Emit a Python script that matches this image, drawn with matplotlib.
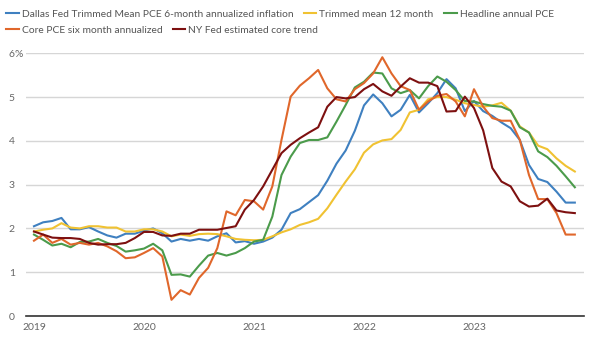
import numpy as np
import matplotlib.pyplot as plt
from matplotlib.lines import Line2D

plt.rcParams['font.family'] = ['Lato', 'DejaVu Sans']

# monthly, Jan 2019 .. Dec 2023
years = ['2019', '2020', '2021', '2022', '2023']

dallas_6m = [2.05, 2.14, 2.17, 2.24, 1.98, 1.98, 2.03, 1.93, 1.84, 1.79, 1.88, 1.88,
             1.95, 2.00, 1.89, 1.70, 1.76, 1.72, 1.76, 1.72, 1.82, 1.89, 1.68, 1.71,
             1.65, 1.70, 1.79, 1.97, 2.35, 2.44, 2.60, 2.76, 3.09, 3.48, 3.78, 4.23,
             4.81, 5.06, 4.86, 4.56, 4.71, 5.05, 4.65, 4.86, 5.09, 5.41, 5.20, 4.68,
             4.91, 4.68, 4.57, 4.42, 4.29, 4.02, 3.45, 3.13, 3.06, 2.84, 2.59, 2.59]

trimmed_12m = [1.93, 1.97, 2.00, 2.12, 2.02, 2.00, 2.05, 2.05, 2.02, 2.02, 1.93, 1.93,
               1.98, 1.98, 1.93, 1.82, 1.86, 1.83, 1.87, 1.88, 1.87, 1.82, 1.76, 1.74,
               1.73, 1.74, 1.82, 1.91, 1.98, 2.08, 2.14, 2.22, 2.46, 2.77, 3.07, 3.35,
               3.73, 3.92, 4.01, 4.04, 4.25, 4.65, 4.71, 4.95, 5.00, 5.00, 4.94, 4.86,
               4.82, 4.78, 4.81, 4.87, 4.69, 4.33, 4.19, 3.89, 3.81, 3.60, 3.43, 3.30]

headline = [1.86, 1.74, 1.61, 1.65, 1.57, 1.69, 1.70, 1.76, 1.67, 1.60, 1.47, 1.50,
            1.54, 1.65, 1.50, 0.94, 0.95, 0.90, 1.15, 1.38, 1.44, 1.38, 1.44, 1.55,
            1.70, 1.74, 2.27, 3.22, 3.64, 3.95, 4.02, 4.02, 4.08, 4.44, 4.82, 5.22,
            5.35, 5.56, 5.54, 5.20, 5.09, 5.16, 4.97, 5.25, 5.47, 5.35, 5.16, 4.91,
            4.90, 4.84, 4.80, 4.78, 4.69, 4.31, 4.19, 3.76, 3.63, 3.43, 3.19, 2.94]

core_6m = [1.72, 1.86, 1.67, 1.76, 1.63, 1.67, 1.63, 1.67, 1.59, 1.48, 1.32, 1.34,
           1.44, 1.55, 1.36, 0.37, 0.59, 0.49, 0.87, 1.10, 1.55, 2.39, 2.30, 2.65,
           2.62, 2.43, 2.96, 4.02, 5.01, 5.26, 5.43, 5.62, 5.20, 4.95, 4.90, 5.18,
           5.32, 5.54, 5.91, 5.54, 5.25, 5.16, 4.71, 4.90, 5.03, 5.07, 4.90, 4.56,
           5.18, 4.78, 4.52, 4.46, 4.46, 4.02, 3.22, 2.67, 2.67, 2.35, 1.86, 1.86]

nyfed_trend = [1.93, 1.86, 1.79, 1.78, 1.78, 1.76, 1.67, 1.63, 1.64, 1.64, 1.67, 1.78,
               1.92, 1.92, 1.84, 1.83, 1.88, 1.88, 1.97, 1.97, 1.97, 2.01, 2.05, 2.43,
               2.65, 2.96, 3.34, 3.72, 3.91, 4.06, 4.19, 4.31, 4.78, 5.00, 4.97, 5.00,
               5.18, 5.30, 5.13, 5.03, 5.24, 5.43, 5.33, 5.33, 5.25, 4.67, 4.68, 5.01,
               4.75, 4.24, 3.38, 3.07, 2.96, 2.62, 2.50, 2.52, 2.68, 2.41, 2.37, 2.35]

series = [
    ('Dallas Fed Trimmed Mean PCE 6-month annualized inflation', dallas_6m, '#3f80c0'),
    ('Trimmed mean 12 month', trimmed_12m, '#f0c232'),
    ('Headline annual PCE', headline, '#4b9b4b'),
    ('Core PCE six month annualized', core_6m, '#e0672b'),
    ('NY Fed estimated core trend', nyfed_trend, '#7d1010'),
]

fig = plt.figure(figsize=(6, 3.4), dpi=100)
ax = fig.add_axes([26/600, 1 - 316/340, 558/600, (316 - 53.3)/340])

months = np.arange(len(dallas_6m))
for label, vals, col in series:
    ax.plot(months, vals, color=col, lw=1.5, label=label)

ax.set_xlim(-0.87, 60)
ax.set_ylim(0, 6)
ax.set_yticks(range(7))
ax.set_yticklabels([str(i) for i in range(7)])
ax.set_xticks([0, 12, 24, 36, 48])
ax.set_xticklabels(years)
ax.grid(axis='y', color='#d6d6d6', lw=1)
ax.set_axisbelow(True)
for s in ['top', 'right', 'left']:
    ax.spines[s].set_visible(False)
ax.spines['bottom'].set_color('#333333')
ax.spines['bottom'].set_linewidth(1.2)
ax.tick_params(axis='both', length=0, labelsize=7.5, labelcolor='#666666')
ax.tick_params(axis='y', pad=8)
ax.tick_params(axis='x', pad=5)
# percent sign hangs after the top tick number
ax.annotate('%', xy=(0, 6), xycoords=ax.get_yaxis_transform(),
            xytext=(-8, 0), textcoords='offset points', fontsize=7.5,
            color='#666666', ha='left', va='center_baseline')

# legend in two rows
h = {lab: Line2D([], [], color=c, lw=1.5) for lab, _, c in series}
labs = [s[0] for s in series]
kw = dict(frameon=False, fontsize=7.4, handlelength=1.25, handletextpad=0.28,
          columnspacing=1.0, labelcolor='#555555', borderaxespad=0, borderpad=0)
leg1 = fig.legend([h[l] for l in labs[:3]], labs[:3], loc='center left',
                  bbox_to_anchor=(6/600, 1 - 14/340), ncol=3, **kw)
leg2 = fig.legend([h[l] for l in labs[3:]], labs[3:], loc='center left',
                  bbox_to_anchor=(6/600, 1 - 30/340), ncol=2, **kw)

fig.savefig('out.png', dpi=100)
